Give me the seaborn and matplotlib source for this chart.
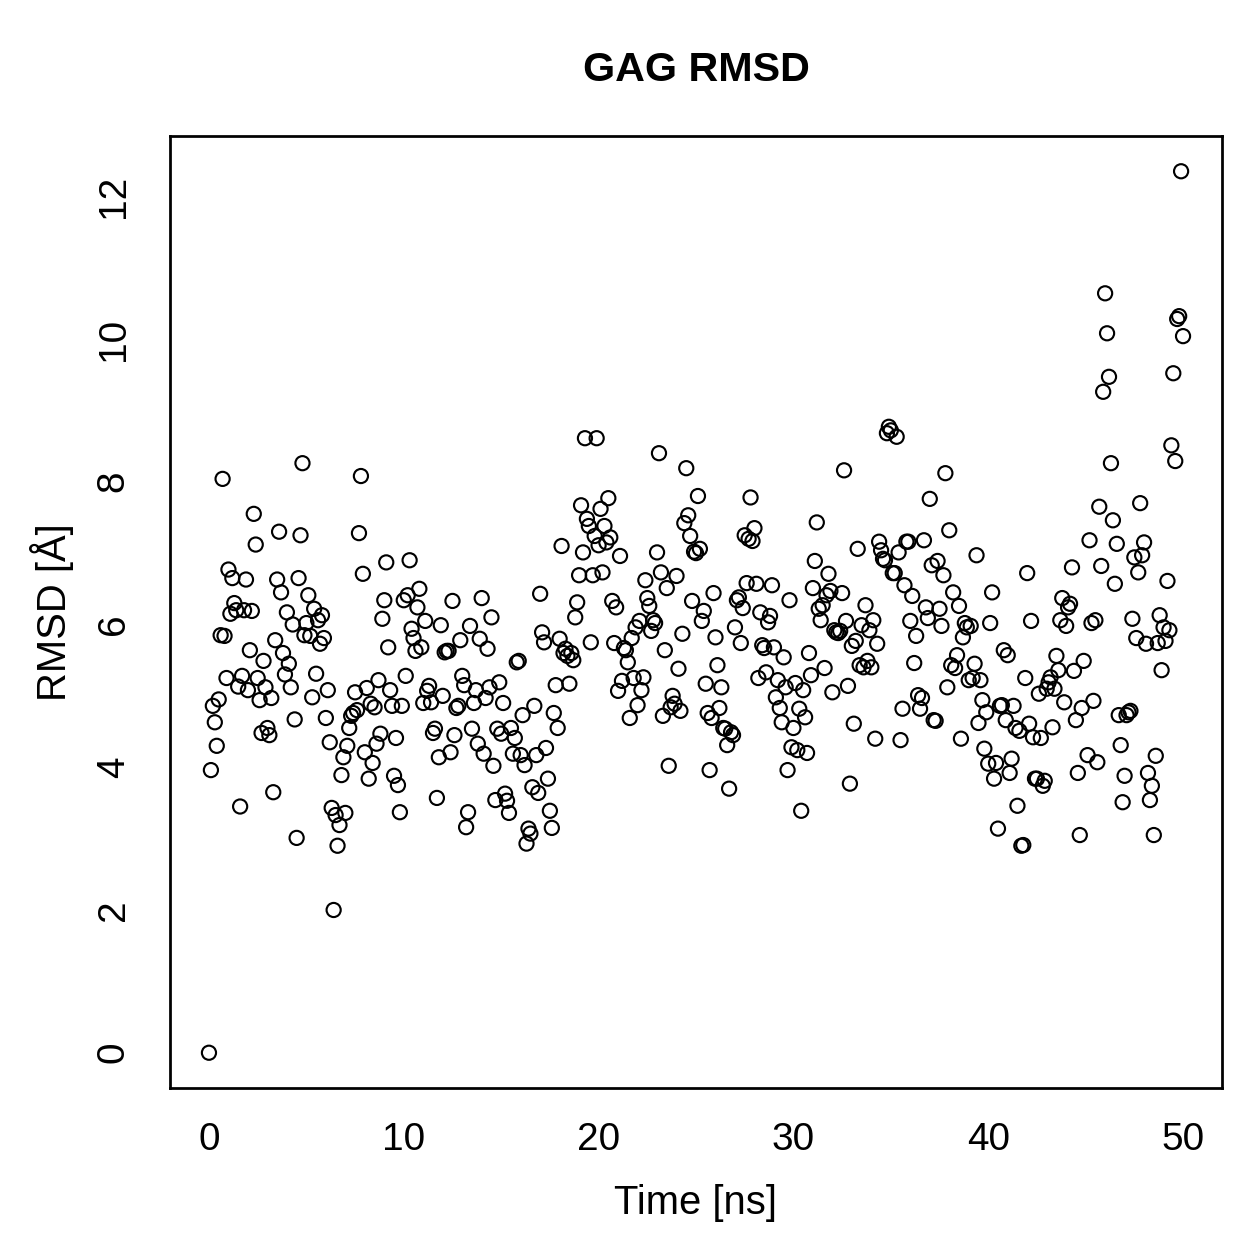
import matplotlib
matplotlib.use("Agg")
import matplotlib.pyplot as plt
import seaborn as sns

# GAG RMSD over the trajectory, one frame every 0.1 ns
time_0_5 = [0.0, 0.1, 0.2, 0.3, 0.4, 0.5, 0.6, 0.7, 0.8, 0.9, 1.0, 1.1, 1.2, 1.3, 1.4, 1.5, 1.6, 1.7, 1.8, 1.9, 2.0, 2.1, 2.2, 2.3, 2.4, 2.5, 2.6, 2.7, 2.8, 2.9, 3.0, 3.1, 3.2, 3.3, 3.4, 3.5, 3.6, 3.7, 3.8, 3.9, 4.0, 4.1, 4.2, 4.3, 4.4, 4.5, 4.6, 4.7, 4.8, 4.9]
rmsd_0_5 = [0.0, 3.96, 4.86, 4.63, 4.30, 4.95, 5.85, 8.04, 5.84, 5.25, 6.77, 6.15, 6.65, 6.30, 6.20, 5.13, 3.45, 5.28, 6.20, 6.63, 5.08, 5.64, 6.19, 7.55, 7.12, 5.25, 4.94, 4.48, 5.49, 5.12, 4.55, 4.45, 4.97, 3.65, 5.78, 6.63, 7.30, 6.45, 5.60, 5.30, 6.17, 5.45, 5.12, 6.00, 4.67, 3.01, 6.65, 7.25, 8.26, 5.85]

time_5_10 = [5.0, 5.1, 5.2, 5.3, 5.4, 5.5, 5.6, 5.7, 5.8, 5.9, 6.0, 6.1, 6.2, 6.3, 6.4, 6.5, 6.6, 6.7, 6.8, 6.9, 7.0, 7.1, 7.2, 7.3, 7.4, 7.5, 7.6, 7.7, 7.8, 7.9, 8.0, 8.1, 8.2, 8.3, 8.4, 8.5, 8.6, 8.7, 8.8, 8.9, 9.0, 9.1, 9.2, 9.3, 9.4, 9.5, 9.6, 9.7, 9.8, 9.9]
rmsd_5_10 = [6.02, 6.41, 5.84, 4.98, 6.22, 5.31, 6.06, 5.73, 6.13, 5.81, 4.69, 5.08, 4.35, 3.43, 2.00, 3.33, 2.90, 3.19, 3.89, 4.14, 3.36, 4.30, 4.55, 4.72, 4.76, 5.05, 4.80, 7.28, 8.08, 6.71, 4.21, 5.11, 3.84, 4.89, 4.06, 4.84, 4.33, 5.22, 4.47, 6.08, 6.34, 6.87, 5.68, 5.08, 4.86, 3.88, 4.41, 3.75, 3.37, 4.86]

time_10_15 = [10.0, 10.1, 10.2, 10.3, 10.4, 10.5, 10.6, 10.7, 10.8, 10.9, 11.0, 11.1, 11.2, 11.3, 11.4, 11.5, 11.6, 11.7, 11.8, 11.9, 12.0, 12.1, 12.2, 12.3, 12.4, 12.5, 12.6, 12.7, 12.8, 12.9, 13.0, 13.1, 13.2, 13.3, 13.4, 13.5, 13.6, 13.7, 13.8, 13.9, 14.0, 14.1, 14.2, 14.3, 14.4, 14.5, 14.6, 14.7, 14.8, 14.9]
rmsd_10_15 = [6.34, 5.28, 6.41, 6.90, 5.94, 5.81, 5.63, 6.24, 6.50, 5.68, 4.90, 6.05, 5.07, 5.14, 4.91, 4.48, 4.54, 3.57, 4.14, 5.99, 5.00, 5.61, 5.63, 5.63, 4.21, 6.33, 4.45, 4.83, 4.86, 5.78, 5.28, 5.15, 3.16, 3.37, 5.98, 4.54, 4.90, 5.08, 4.33, 5.80, 6.37, 4.19, 4.97, 5.66, 5.12, 6.10, 4.02, 3.54, 4.54, 5.19]

time_15_20 = [15.0, 15.1, 15.2, 15.3, 15.4, 15.5, 15.6, 15.7, 15.8, 15.9, 16.0, 16.1, 16.2, 16.3, 16.4, 16.5, 16.6, 16.7, 16.8, 16.9, 17.0, 17.1, 17.2, 17.3, 17.4, 17.5, 17.6, 17.7, 17.8, 17.9, 18.0, 18.1, 18.2, 18.3, 18.4, 18.5, 18.6, 18.7, 18.8, 18.9, 19.0, 19.1, 19.2, 19.3, 19.4, 19.5, 19.6, 19.7, 19.8, 19.9]
rmsd_15_20 = [4.47, 4.90, 3.63, 3.53, 3.36, 4.55, 4.19, 4.41, 5.47, 5.49, 4.17, 4.73, 4.03, 2.93, 3.14, 3.07, 3.72, 4.86, 4.17, 3.64, 6.43, 5.89, 5.75, 4.27, 3.84, 3.39, 3.15, 4.76, 5.15, 4.55, 5.80, 7.10, 5.60, 5.66, 5.56, 5.17, 5.60, 5.50, 6.10, 6.31, 6.69, 7.67, 7.01, 8.61, 7.48, 7.38, 5.75, 6.69, 7.24, 8.61]

time_20_25 = [20.0, 20.1, 20.2, 20.3, 20.4, 20.5, 20.6, 20.7, 20.8, 20.9, 21.0, 21.1, 21.2, 21.3, 21.4, 21.5, 21.6, 21.7, 21.8, 21.9, 22.0, 22.1, 22.2, 22.3, 22.4, 22.5, 22.6, 22.7, 22.8, 22.9, 23.0, 23.1, 23.2, 23.3, 23.4, 23.5, 23.6, 23.7, 23.8, 23.9, 24.0, 24.1, 24.2, 24.3, 24.4, 24.5, 24.6, 24.7, 24.8, 24.9]
rmsd_20_25 = [7.11, 7.62, 6.73, 7.38, 7.15, 7.77, 7.22, 6.33, 5.74, 6.24, 5.07, 6.96, 5.21, 5.67, 5.64, 5.47, 4.69, 5.81, 5.25, 5.96, 4.87, 6.05, 5.08, 5.26, 6.62, 6.37, 6.26, 5.91, 6.06, 6.02, 7.01, 8.40, 6.73, 4.72, 5.64, 6.51, 4.02, 4.84, 5.00, 4.89, 6.68, 5.38, 4.79, 5.87, 7.42, 8.19, 7.53, 7.24, 6.33, 7.02]

time_25_30 = [25.0, 25.1, 25.2, 25.3, 25.4, 25.5, 25.6, 25.7, 25.8, 25.9, 26.0, 26.1, 26.2, 26.3, 26.4, 26.5, 26.6, 26.7, 26.8, 26.9, 27.0, 27.1, 27.2, 27.3, 27.4, 27.5, 27.6, 27.7, 27.8, 27.9, 28.0, 28.1, 28.2, 28.3, 28.4, 28.5, 28.6, 28.7, 28.8, 28.9, 29.0, 29.1, 29.2, 29.3, 29.4, 29.5, 29.6, 29.7, 29.8, 29.9]
rmsd_25_30 = [7.00, 7.80, 7.06, 6.05, 6.19, 5.17, 4.76, 3.96, 4.69, 6.44, 5.82, 5.43, 4.83, 5.12, 4.55, 4.54, 4.31, 3.70, 4.49, 4.45, 5.96, 6.34, 6.38, 5.74, 6.23, 7.25, 6.58, 7.20, 7.78, 7.17, 7.35, 6.57, 5.25, 6.17, 5.71, 5.67, 5.33, 6.03, 6.12, 6.55, 5.68, 4.98, 5.22, 4.83, 4.63, 5.54, 5.12, 3.96, 6.34, 4.28]

time_30_35 = [30.0, 30.1, 30.2, 30.3, 30.4, 30.5, 30.6, 30.7, 30.8, 30.9, 31.0, 31.1, 31.2, 31.3, 31.4, 31.5, 31.6, 31.7, 31.8, 31.9, 32.0, 32.1, 32.2, 32.3, 32.4, 32.5, 32.6, 32.7, 32.8, 32.9, 33.0, 33.1, 33.2, 33.3, 33.4, 33.5, 33.6, 33.7, 33.8, 33.9, 34.0, 34.1, 34.2, 34.3, 34.4, 34.5, 34.6, 34.7, 34.8, 34.9]
rmsd_30_35 = [4.55, 5.18, 4.24, 4.82, 3.39, 5.08, 4.70, 4.20, 5.60, 5.29, 6.51, 6.89, 7.43, 6.22, 6.06, 6.27, 5.39, 6.41, 6.71, 6.47, 5.05, 5.92, 5.89, 5.88, 5.91, 6.44, 8.16, 6.05, 5.14, 3.77, 5.70, 4.61, 5.77, 7.06, 5.43, 5.99, 5.40, 6.27, 5.49, 5.92, 5.40, 6.06, 4.40, 5.73, 7.16, 7.04, 6.92, 6.90, 8.68, 8.77]

time_35_40 = [35.0, 35.1, 35.2, 35.3, 35.4, 35.5, 35.6, 35.7, 35.8, 35.9, 36.0, 36.1, 36.2, 36.3, 36.4, 36.5, 36.6, 36.7, 36.8, 36.9, 37.0, 37.1, 37.2, 37.3, 37.4, 37.5, 37.6, 37.7, 37.8, 37.9, 38.0, 38.1, 38.2, 38.3, 38.4, 38.5, 38.6, 38.7, 38.8, 38.9, 39.0, 39.1, 39.2, 39.3, 39.4, 39.5, 39.6, 39.7, 39.8, 39.9]
rmsd_35_40 = [8.72, 6.72, 6.72, 8.63, 7.01, 4.38, 4.82, 6.55, 7.16, 7.16, 6.05, 6.40, 5.46, 5.84, 5.01, 4.82, 4.97, 7.18, 6.24, 6.09, 7.76, 6.83, 4.66, 4.65, 6.89, 6.22, 5.98, 6.69, 8.12, 5.12, 7.32, 5.43, 6.45, 5.39, 5.57, 6.26, 4.40, 5.82, 6.02, 5.96, 5.22, 5.98, 5.25, 5.45, 6.97, 4.62, 5.22, 4.94, 4.26, 4.77]

time_40_45 = [40.0, 40.1, 40.2, 40.3, 40.4, 40.5, 40.6, 40.7, 40.8, 40.9, 41.0, 41.1, 41.2, 41.3, 41.4, 41.5, 41.6, 41.7, 41.8, 41.9, 42.0, 42.1, 42.2, 42.3, 42.4, 42.5, 42.6, 42.7, 42.8, 42.9, 43.0, 43.1, 43.2, 43.3, 43.4, 43.5, 43.6, 43.7, 43.8, 43.9, 44.0, 44.1, 44.2, 44.3, 44.4, 44.5, 44.6, 44.7, 44.8, 44.9]
rmsd_40_45 = [4.05, 6.02, 6.45, 3.84, 4.06, 3.14, 4.86, 4.87, 5.64, 4.66, 5.57, 3.92, 4.12, 4.86, 4.55, 3.46, 4.51, 2.90, 2.91, 5.25, 6.72, 4.61, 6.05, 4.42, 3.84, 3.84, 5.03, 4.41, 3.74, 3.81, 5.10, 5.19, 5.26, 4.56, 5.10, 5.56, 5.36, 6.06, 6.37, 4.91, 5.98, 6.24, 6.29, 6.80, 5.35, 4.66, 3.92, 3.05, 4.83, 5.49]

time_45_50 = [45.1, 45.2, 45.3, 45.4, 45.5, 45.6, 45.7, 45.8, 45.9, 46.0, 46.1, 46.2, 46.3, 46.4, 46.5, 46.6, 46.7, 46.8, 46.9, 47.0, 47.1, 47.2, 47.3, 47.4, 47.5, 47.6, 47.7, 47.8, 47.9, 48.0, 48.1, 48.2, 48.3, 48.4, 48.5, 48.6, 48.7, 48.8, 48.9, 49.0, 49.1, 49.2, 49.3, 49.4, 49.5, 49.6, 49.7, 49.8, 49.9, 50.0]
rmsd_45_50 = [4.17, 7.18, 6.02, 4.93, 6.06, 4.07, 7.65, 6.82, 9.26, 10.64, 10.08, 9.47, 8.26, 7.46, 6.57, 7.13, 4.73, 4.31, 3.51, 3.88, 4.73, 4.77, 4.79, 6.08, 6.94, 5.81, 6.73, 7.70, 6.97, 7.15, 5.73, 3.92, 3.54, 3.74, 3.05, 4.16, 5.74, 6.13, 5.36, 5.96, 5.77, 6.61, 5.92, 8.51, 9.52, 8.29, 10.28, 10.32, 12.35, 10.04]

time_ns = (time_0_5 + time_5_10 + time_10_15 + time_15_20 + time_20_25
           + time_25_30 + time_30_35 + time_35_40 + time_40_45 + time_45_50)
rmsd = (rmsd_0_5 + rmsd_5_10 + rmsd_10_15 + rmsd_15_20 + rmsd_20_25
        + rmsd_25_30 + rmsd_30_35 + rmsd_35_40 + rmsd_40_45 + rmsd_45_50)

x_ticks = [0, 10, 20, 30, 40, 50]
y_ticks = [0, 2, 4, 6, 8, 10, 12]

sns.set_style("white")
plt.rcParams['font.family'] = ['Liberation Sans', 'DejaVu Sans']
plt.rcParams['text.color'] = 'black'
plt.rcParams['axes.labelcolor'] = 'black'

W = 1259
fig = plt.figure(figsize=(W / 180, W / 180), dpi=180)
ax = fig.add_axes([170 / W, 1 - 1088 / W, (1222 - 170) / W, (1088 - 136) / W])

sns.scatterplot(x=time_ns, y=rmsd, ax=ax, marker='o', s=32,
                facecolors='none', edgecolor='black', linewidth=0.85)

ax.set_xlim(-2, 52)
ax.set_ylim(-0.494, 12.844)
ax.set_xticks(x_ticks)
ax.set_yticks(y_ticks)
ax.set_xticklabels([str(v) for v in x_ticks])
ax.set_yticklabels([str(v) for v in y_ticks], rotation=90, va='center')

ax.tick_params(axis='both', direction='out', length=6.8, width=1.0,
               labelsize=15.5, color='black', labelcolor='black')
ax.tick_params(axis='x', pad=7)
ax.tick_params(axis='y', pad=8.5)
for side in ax.spines.values():
    side.set_visible(True)
    side.set_color('black')
    side.set_linewidth(1.1)

ax.set_xlabel("Time [ns]", fontsize=16, color='black')
ax.set_ylabel("RMSD [Å]", fontsize=16, color='black')
ax.xaxis.label.set_va('center')
ax.yaxis.label.set_va('center')
ax.xaxis.set_label_coords(0.5, (1088 - 1203) / 952)
ax.yaxis.set_label_coords((52 - 170) / 1052, 0.5)

fig.text(696 / W, 1 - 70 / W, "GAG RMSD", fontsize=16.5, fontweight='bold',
         ha='center', va='center', color='black')

fig.savefig("out.png", dpi=180, facecolor='white')
